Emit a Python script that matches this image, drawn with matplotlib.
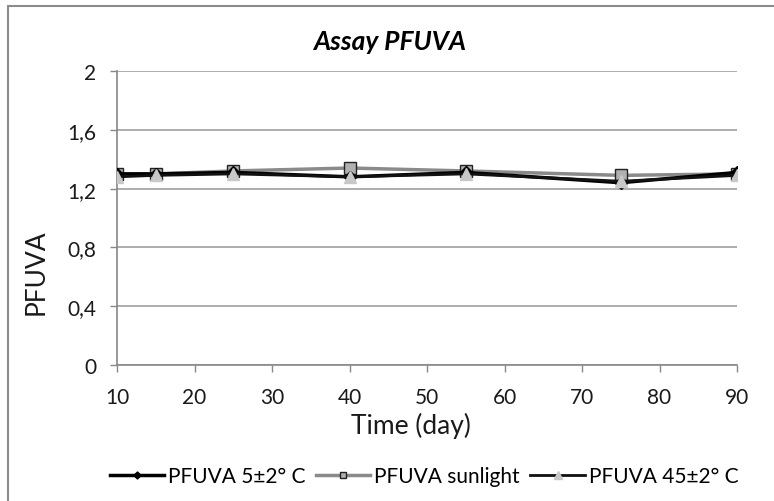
import matplotlib
matplotlib.use("Agg")
import matplotlib.pyplot as plt
from matplotlib.patches import Rectangle

plt.rcParams['font.family'] = ['Lato', 'DejaVu Sans']

# data
days = [10, 15, 25, 40, 55, 75, 90]
pfuva_5c = [1.30, 1.30, 1.31, 1.28, 1.31, 1.24, 1.31]
pfuva_sun = [1.30, 1.30, 1.32, 1.34, 1.32, 1.29, 1.30]
pfuva_45c = [1.28, 1.29, 1.30, 1.28, 1.30, 1.25, 1.29]
y_ticks = [0, 0.4, 0.8, 1.2, 1.6, 2]
y_labels = ['0', '0,4', '0,8', '1,2', '1,6', '2']
x_ticks = [10, 20, 30, 40, 50, 60, 70, 80, 90]

fig = plt.figure(figsize=(7.74, 5.02), dpi=100)
ax = fig.add_axes([117/774, 1 - 366/502, (737 - 117)/774, (366 - 72)/502])

# outer chart frame (only top/left visible in the reference)
fig.patches.append(Rectangle((8/774, -0.05), 1.2, 1 - 7/502 + 0.05,
                             transform=fig.transFigure, fill=False,
                             edgecolor='#8c8c8c', linewidth=1.5))

ax.plot(days, pfuva_sun, color='#8a8a8a', linewidth=2.5, marker='s',
        markersize=8, markerfacecolor='#b0b0b0', markeredgecolor='#222222',
        label='PFUVA sunlight', zorder=3)
ax.plot(days, pfuva_5c, color='black', linewidth=2.5, marker='D',
        markersize=6, markerfacecolor='black', label='PFUVA 5±2° C', zorder=4)
ax.plot(days, pfuva_45c, color='#111111', linewidth=2.0, marker='^',
        markersize=9, markerfacecolor='#c8c8c8', markeredgecolor='#c8c8c8',
        label='PFUVA 45±2° C', zorder=5)

ax.set_xlim(10, 90)
ax.set_ylim(0, 2)
ax.set_xticks(x_ticks)
ax.set_yticks(y_ticks)
ax.set_yticklabels(y_labels)
ax.tick_params(labelsize=15, color='#888888', length=5, width=1, labelcolor='#1a1a1a')
ax.tick_params(axis='x', pad=11)
ax.tick_params(axis='y', pad=10)
ax.grid(axis='y', color='#a0a0a0', linewidth=1.2)
ax.set_axisbelow(True)
for s in ['top', 'right']:
    ax.spines[s].set_visible(False)
for s in ['left', 'bottom']:
    ax.spines[s].set_color('#888888')
    ax.spines[s].set_linewidth(1.2)

fig.text(390/774, 1 - 42/502, 'Assay PFUVA', fontsize=19, fontstyle='italic',
         fontweight='bold', ha='center', va='center')
ax.set_xlabel('Time (day)', fontsize=19, color='#1a1a1a')
ax.xaxis.set_label_coords((411 - 117)/620, -(413 - 366)/294)
ax.set_ylabel('PFUVA', fontsize=19, color='#1a1a1a')
ax.yaxis.set_label_coords(-(117 - 49)/620, (366 - 272)/294)

handles, labels = ax.get_legend_handles_labels()
order = [1, 0, 2]
fig.legend([handles[i] for i in order], [labels[i] for i in order],
           loc='center', bbox_to_anchor=(0.548, 1 - 477/502), ncol=3,
           frameon=False, fontsize=15, handlelength=2.6, handletextpad=0.2,
           columnspacing=0.5, markerscale=0.6)

fig.savefig('out.png', dpi=100)
